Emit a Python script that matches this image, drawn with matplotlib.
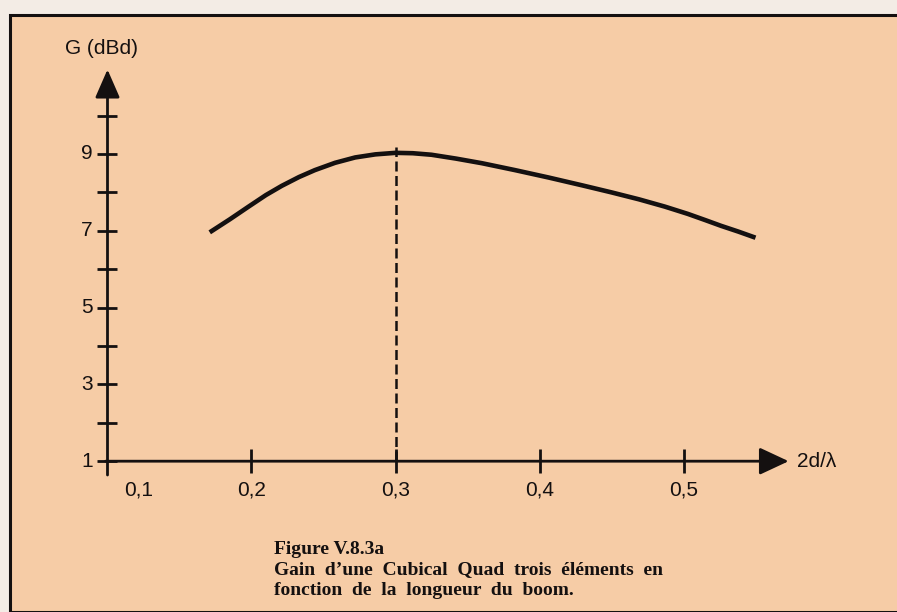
import matplotlib.pyplot as plt
from matplotlib.patches import Rectangle

# gain curve (boom length 2d/lambda, gain in dBd)
boom = [0.171, 0.185, 0.198, 0.210, 0.221, 0.233, 0.244, 0.258, 0.272, 0.286, 0.300,
        0.312, 0.325, 0.342, 0.360, 0.383, 0.406, 0.430, 0.450, 0.469, 0.487, 0.503,
        0.515, 0.526, 0.538, 0.550]
gain = [6.96, 7.30, 7.63, 7.93, 8.17, 8.40, 8.58, 8.77, 8.91, 8.99, 9.03,
        9.02, 8.98, 8.88, 8.76, 8.58, 8.39, 8.18, 8.00, 7.82, 7.63, 7.44,
        7.28, 7.13, 6.98, 6.82]

x_ticks = [0.2, 0.3, 0.4, 0.5]
x_tick_labels = ["0,2", "0,3", "0,4", "0,5"]
y_major = [1, 3, 5, 7, 9]
y_major_labels = ["1", "3", "5", "7", "9"]
y_minor = [2, 4, 6, 8, 10]

peak_x = 0.3
peak_top = 9.18
x_origin, y_origin = 0.1, 1.0
x_tip, y_tip = 0.573, 11.2

caption = [
    "Figure V.8.3a",
    "Gain  d\u2019une  Cubical  Quad  trois  \u00e9l\u00e9ments  en",
    "fonction  de  la  longueur  du  boom.",
]

INK = "#141010"
PAPER = "#f6cca6"
OUTSIDE = "#f3ece5"
SANS = "Liberation Sans"
SERIF = "Liberation Serif"

fig = plt.figure(figsize=(8.97, 6.12), dpi=100)
fig.patch.set_facecolor(OUTSIDE)
ax = fig.add_axes([0, 0, 1, 1])
ax.set_xlim(0.02535, 0.64826)
ax.set_ylim(-2.927, 13.01)
ax.axis("off")

# framed panel
ax.add_patch(Rectangle((10 / 897, 0), 1.0, 1 - 15 / 612, transform=ax.transAxes,
                       facecolor=PAPER, edgecolor=INK, lw=2.2, zorder=0))

# axes with arrow heads
ax.annotate("", xy=(x_origin, y_tip), xytext=(x_origin, 0.64),
            arrowprops=dict(arrowstyle="-|>,head_length=0.87,head_width=0.38",
                            mutation_scale=20, lw=2.0, color=INK, shrinkA=0, shrinkB=0))
ax.annotate("", xy=(x_tip, y_origin), xytext=(0.0986, y_origin),
            arrowprops=dict(arrowstyle="-|>,head_length=0.9,head_width=0.42",
                            mutation_scale=20, lw=2.0, color=INK, shrinkA=0, shrinkB=0))

# ticks crossing the axes
ax.plot([x_origin] * (len(y_major) + len(y_minor)), y_major + y_minor, ls="none",
        marker="_", markersize=15, markeredgewidth=2.0, color=INK)
ax.plot(x_ticks, [y_origin] * len(x_ticks), ls="none",
        marker="|", markersize=17, markeredgewidth=2.0, color=INK)

for v, lab in zip(y_major, y_major_labels):
    ax.annotate(lab, (x_origin, v), xytext=(-10.5, 0), textcoords="offset points",
                ha="right", va="center", fontsize=15, family=SANS, color=INK)
for v, lab in zip(x_ticks, x_tick_labels):
    ax.annotate(lab, (v, y_origin), xytext=(0, -21), textcoords="offset points",
                ha="center", va="center", fontsize=15, family=SANS, color=INK)
ax.annotate("0,1", (x_origin, y_origin), xytext=(22.7, -21), textcoords="offset points",
            ha="center", va="center", fontsize=15, family=SANS, color=INK)

ax.annotate("G (dBd)", (x_origin, y_tip), xytext=(-4.5, 8.5), textcoords="offset points",
            ha="center", va="bottom", fontsize=15, family=SANS, color=INK)
ax.annotate("2d/\u03bb", (x_tip, y_origin), xytext=(6, 0), textcoords="offset points",
            ha="left", va="center", fontsize=15, family=[SANS, "DejaVu Sans"], color=INK)

# curve and peak marker
ax.plot(boom, gain, color=INK, lw=3.3, solid_capstyle="butt", solid_joinstyle="round", zorder=3)
ax.plot([peak_x, peak_x], [y_origin, peak_top], color=INK, lw=1.8, dashes=(4, 1.8), zorder=2)

# caption
for i, line in enumerate(caption):
    fig.text(274 / 897, 1 - (554 + 20.5 * i) / 612, line, ha="left", va="baseline",
             fontsize=14, family=SERIF, weight="bold", color=INK)

fig.savefig("out.png", dpi=100, facecolor=fig.get_facecolor())
